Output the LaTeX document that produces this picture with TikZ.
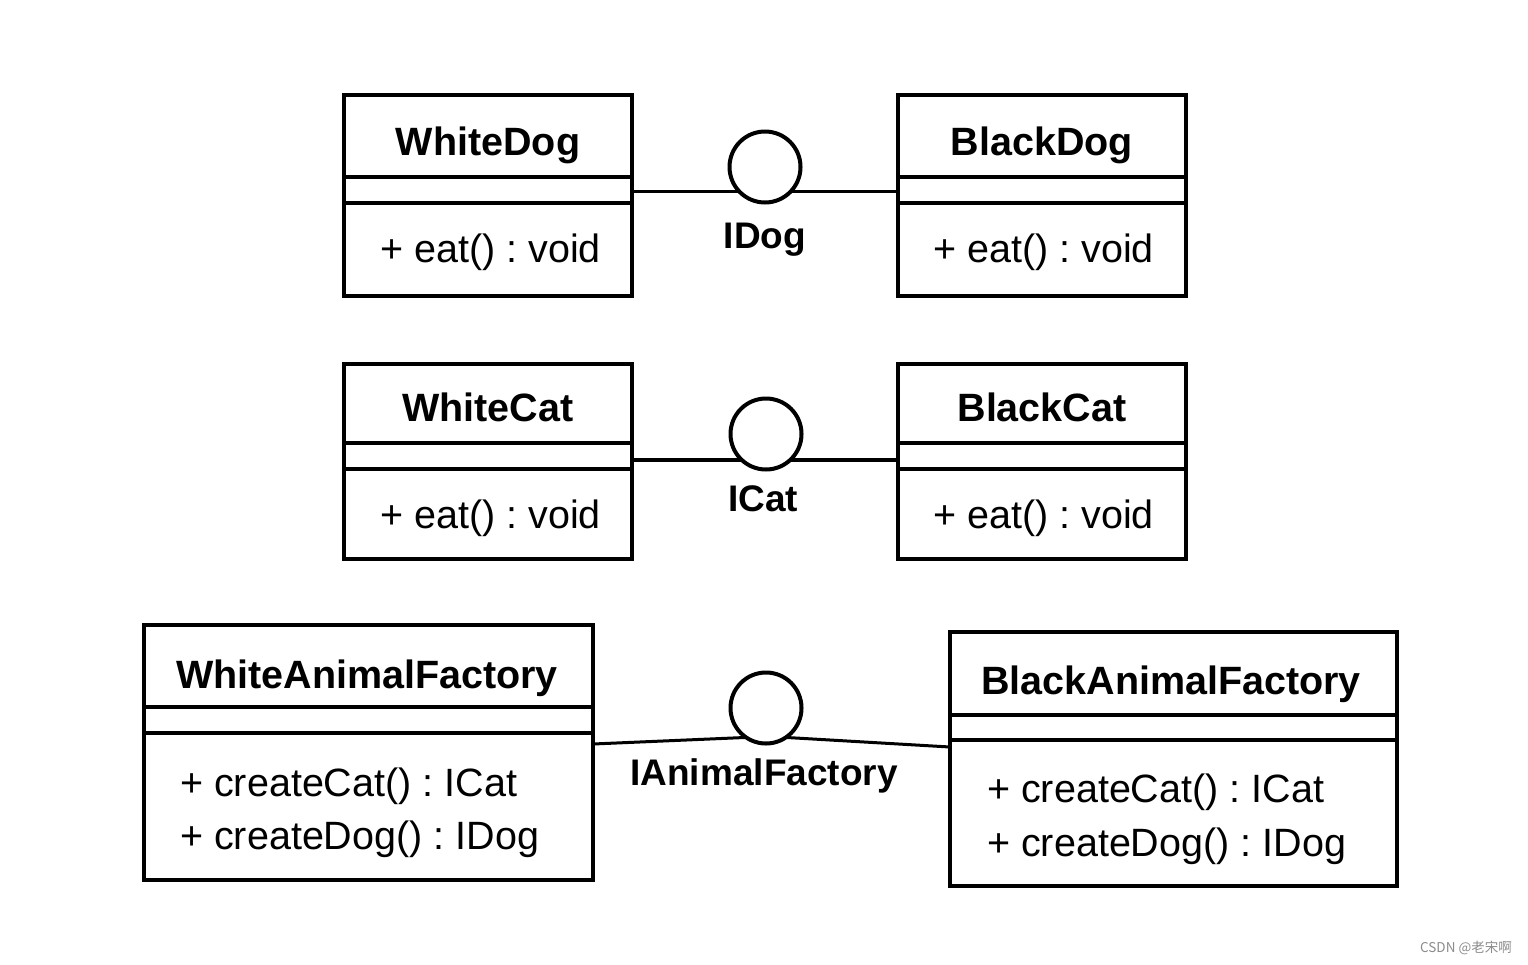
\documentclass[tikz,border=0pt]{standalone}
\usepackage{fontspec}
\setmainfont{Liberation Sans}
\newfontfamily\cjkfont{Noto Sans CJK SC}
\frenchspacing
\begin{document}
\begin{tikzpicture}[x=1pt,y=-1pt,
  classbox/.style={draw, line width=4.5pt, inner sep=0pt, outer sep=0pt, anchor=north west},
  sepline/.style={line width=3.5pt},
  conn/.style={line width=3.5pt},
  lollipop/.style={circle, draw, line width=4pt, minimum size=71pt, inner sep=0pt, outer sep=0pt},
  titletext/.style={font=\fontsize{39.5}{44}\selectfont\bfseries, inner sep=0pt, anchor=base},
  membertext/.style={font=\fontsize{39.5}{44}\selectfont, inner sep=0pt, anchor=base west},
  ifacetext/.style={font=\fontsize{37}{42}\selectfont\bfseries, inner sep=0pt, anchor=base},
]
\useasboundingbox[fill=white] (0,0) rectangle (1528,964);

% ---- Dogs ----
\node[classbox, minimum width=288pt, minimum height=201pt] (wd) at (344,95) {};
\draw[sepline] ([yshift=-82pt]wd.north west) -- ([yshift=-82pt]wd.north east);
\draw[sepline] ([yshift=-108pt]wd.north west) -- ([yshift=-108pt]wd.north east);
\node[titletext] (wdt) at (488,155) {WhiteDog};
\node[membertext] (wdm) at (380,262) {+ eat() : void};

\node[classbox, minimum width=288pt, minimum height=201pt] (bd) at (898,95) {};
\draw[sepline] ([yshift=-82pt]bd.north west) -- ([yshift=-82pt]bd.north east);
\draw[sepline] ([yshift=-108pt]bd.north west) -- ([yshift=-108pt]bd.north east);
\node[titletext] (bdt) at (1042,155) {BlackDog};
\node[membertext] (bdm) at (933,262) {+ eat() : void};

\node[lollipop] (idog) at (765,167) {};
\node[ifacetext] (idogl) at (765,248) {IDog};
\draw[conn] (idog.224 -| wd.east) -- (idog.224);
\draw[conn] (idog.316) -- (idog.316 -| bd.west);

% ---- Cats ----
\node[classbox, minimum width=288pt, minimum height=195pt] (wc) at (344,364) {};
\draw[sepline] ([yshift=-79pt]wc.north west) -- ([yshift=-79pt]wc.north east);
\draw[sepline] ([yshift=-105pt]wc.north west) -- ([yshift=-105pt]wc.north east);
\node[titletext] (wct) at (488,421) {WhiteCat};
\node[membertext] (wcm) at (380,528) {+ eat() : void};

\node[classbox, minimum width=288pt, minimum height=195pt] (bc) at (898,364) {};
\draw[sepline] ([yshift=-79pt]bc.north west) -- ([yshift=-79pt]bc.north east);
\draw[sepline] ([yshift=-105pt]bc.north west) -- ([yshift=-105pt]bc.north east);
\node[titletext] (bct) at (1042,421) {BlackCat};
\node[membertext] (bcm) at (933,528) {+ eat() : void};

\node[lollipop] (icat) at (766,434) {};
\node[ifacetext] (icatl) at (763,511) {ICat};
\draw[conn] (icat.227 -| wc.east) -- (icat.227);
\draw[conn] (icat.313) -- (icat.313 -| bc.west);

% ---- Factories ----
\node[classbox, minimum width=449pt, minimum height=255pt] (wf) at (144,625) {};
\draw[sepline] ([yshift=-82pt]wf.north west) -- ([yshift=-82pt]wf.north east);
\draw[sepline] ([yshift=-108pt]wf.north west) -- ([yshift=-108pt]wf.north east);
\node[titletext] (wft) at (367,688) {WhiteAnimalFactory};
\node[membertext] (wfm1) at (180,796) {+ createCat() : ICat};
\node[membertext] (wfm2) at (180,849) {+ createDog() : IDog};

\node[classbox, minimum width=447pt, minimum height=254pt] (bf) at (950,632) {};
\draw[sepline] ([yshift=-83pt]bf.north west) -- ([yshift=-83pt]bf.north east);
\draw[sepline] ([yshift=-108pt]bf.north west) -- ([yshift=-108pt]bf.north east);
\node[titletext] (bft) at (1171,694) {BlackAnimalFactory};
\node[membertext] (bfm1) at (987,802) {+ createCat() : ICat};
\node[membertext] (bfm2) at (987,856) {+ createDog() : IDog};

\node[lollipop] (iaf) at (766,708) {};
\node[ifacetext] (iafl) at (764,785) {IAnimalFactory};
\draw[conn, line width=3pt] ([yshift=8.5pt]wf.east) -- (iaf.236);
\draw[conn, line width=3pt] (iaf.304) -- ([yshift=12pt]bf.west);

% ---- watermark ----
\node[font=\cjkfont\fontsize{13.5}{15}\selectfont, text=black!45, inner sep=0pt, anchor=base east] (wm) at (1512,952) {CSDN @老宋啊};
\end{tikzpicture}
\end{document}
